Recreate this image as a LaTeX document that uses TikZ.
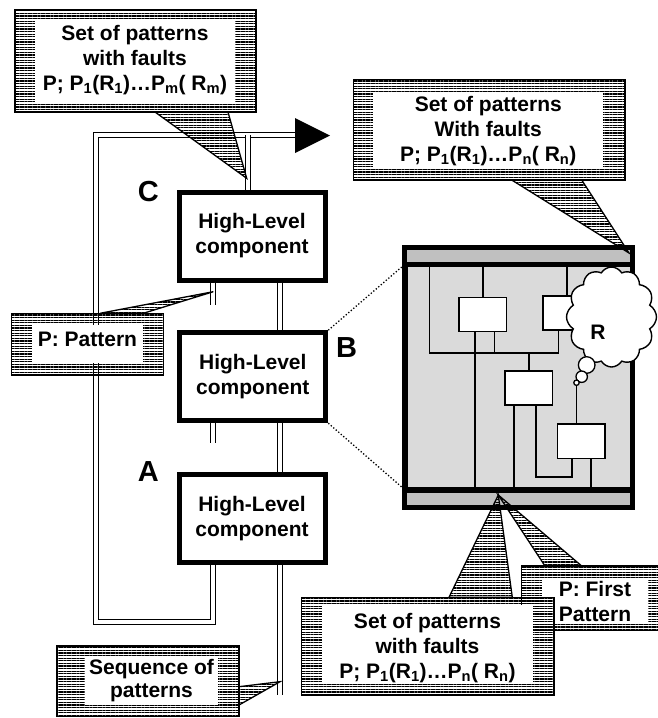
\documentclass[tikz,border=0pt]{standalone}
\usepackage{fontspec}
\setmainfont{Liberation Sans}
\usetikzlibrary{patterns.meta,shapes.symbols,calc}
\definecolor{bargray}{RGB}{192,192,192}
\definecolor{ingray}{RGB}{218,218,218}
\newcommand\callbox[4]{%
  \path[hatch] #1 rectangle #2;
  \fill[white] #3 rectangle #4;}
\begin{document}
\begin{tikzpicture}[x=1pt,y=-1pt,
  txt/.style={font=\bfseries\fontsize{21}{25}\selectfont, align=center, inner sep=0pt},
  lbl/.style={font=\bfseries\fontsize{29}{30}\selectfont, inner sep=0pt},
  comp/.style={draw, line width=5pt, fill=white, minimum width=146pt, minimum height=88pt, txt},
  dline/.style={double=white, double distance=3.3pt, line width=1.7pt},
  hatch/.style={pattern={Lines[angle=0,distance=2.6pt,line width=1.1pt]}, draw=black, line width=1.3pt},
  inbox/.style={draw, line width=1.5pt, fill=white, minimum width=47.6pt, minimum height=34.4pt, inner sep=0pt},
  wire/.style={line width=1.6pt},
  dots/.style={line width=1.3pt, dash pattern=on 1.3pt off 2pt},
  bubble/.style={circle, draw, fill=white, line width=1.3pt, inner sep=0pt}
]
\useasboundingbox (0,0) rectangle (658,718);

% ---------- high-level components ----------
\node[comp] (box1) at (252,236) {High-Level\\component};
\node[comp] (box2) at (252.8,376.7) {High-Level\\component};
\node[comp] (box3) at (252,518.5) {High-Level\\component};

\node[lbl] (lc) at (148.3,191.7) {C};
\node[lbl] (lb) at (346.7,347.3) {B};
\node[lbl] (la) at (148.3,471.7) {A};

% ---------- double lines ----------
\coordinate (tl) at (96,135);
\coordinate (ah) at (296,135);
\coordinate (bl) at (96,622);
\coordinate (br) at (213,622);
\coordinate (seqend) at (280,695);
\coordinate (tj) at (248,135);

\draw[dline] (box3.south -| 213,0) -- (br) -- (bl) -- (tl) -- (ah);
\draw[dline] (tj) -- (box1.north -| tj);
\draw[dline] (box1.south -| 213,0) -- ++(0,22);
\draw[dline] (box2.south -| 213,0) -- ++(0,20);
\draw[dline] (box1.south -| 280,0) -- (box2.north -| 280,0);
\draw[dline] (box2.south -| 280,0) -- (box3.north -| 280,0);
\draw[dline] (box3.south -| 280,0) -- (seqend);
\fill (295,118) -- (330,135.5) -- (295,153) -- cycle;

% ---------- detailed view ----------
\node[fill=black, minimum width=233.3pt, minimum height=265pt, inner sep=0pt, outer sep=0pt] (frame) at (518.35,377.5) {};
\node[fill=bargray, minimum width=223pt, minimum height=12pt, inner sep=0pt] (topbar) at (518.5,256) {};
\node[fill=bargray, minimum width=223pt, minimum height=12pt, inner sep=0pt] (botbar) at (518.5,499) {};
\node[fill=ingray, minimum width=221.7pt, minimum height=220pt, inner sep=0pt, outer sep=0pt] (inner) at (519.15,377) {};

\node[inbox] (ia) at (482.8,314.5) {};
\node[inbox] (ib) at (566.8,313) {};
\node[inbox] (ic) at (528.8,388) {};
\node[inbox] (id) at (581.3,441.3) {};

\coordinate (bus) at (429.3,352.7);
\coordinate (busR) at (559,352.7);
\coordinate (lk) at (535.7,476.7);
\coordinate (lkR) at (571.7,476.7);
\draw[wire] (bus |- inner.north) -- (bus) -- (busR);
\draw[wire] (ia.north) -- (ia.north |- inner.north);
\draw[wire] (ib.north) -- (ib.north |- inner.north);
\draw[wire] (494.3,0 |- ia.south) -- (494.3,0 |- bus);
\draw[wire] (558.3,0 |- ib.south) -- (558.3,0 |- bus);
\draw[wire] (ic.north) -- (ic.north |- bus);
\draw[wire] (475,0 |- ia.south) -- (475,0 |- inner.south);
\draw[wire] (514,0 |- ic.south) -- (514,0 |- inner.south);
\draw[wire] (lk |- ic.south) -- (lk) -- (lkR) -- (lkR |- id.south);
\draw[wire] (591,0 |- id.south) -- (591,0 |- inner.south);

\node[cloud, cloud puffs=12, cloud puff arc=120, draw, fill=white, line width=1.4pt,
      minimum width=90pt, minimum height=100pt, inner sep=0pt] (cl) at (611.5,317) {};
\node[txt] (rlab) at (598,332) {R};
\node[bubble, minimum size=16.6pt] (bub1) at (586.7,365) {};
\node[bubble, minimum size=11.4pt] (bub2) at (581.7,376.7) {};
\node[bubble, minimum size=5.4pt] (bub3) at (576.5,382.7) {};
\draw[wire] (bub3.south) -- (bub3.south |- id.north);

\draw[dots] (box2.north east) -- (frame.west |- inner.north);
\draw[dots] (box2.south east) -- (frame.west |- inner.south);

% ---------- callouts ----------
% top left
\path[hatch] (155,112) -- (246.7,178.3) -- (228,112) -- cycle;
\callbox{(15,10)}{(256,112)}{(35,19)}{(235,102)}
\node[txt] (t1) at (135,60) {Set of patterns\\with faults\\P; P\textsubscript{1}(R\textsubscript{1})…P\textsubscript{m}( R\textsubscript{m})};

% top right
\path[hatch] (511.7,180) -- (629,253) -- (581.7,180) -- cycle;
\callbox{(353.3,79.3)}{(625,180)}{(373.3,91.7)}{(603.3,168)}
\node[txt] (t2) at (488.3,131) {Set of patterns\\With faults\\P; P\textsubscript{1}(R\textsubscript{1})…P\textsubscript{n}( R\textsubscript{n})};

% P: Pattern
\path[hatch] (100,313.3) -- (213.3,291.7) -- (143.3,313.3) -- cycle;
\callbox{(11.7,313.3)}{(163.3,375)}{(31.7,325)}{(143.3,363)}
\node[txt] (t3) at (87.5,339) {P: Pattern};

% Sequence of patterns
\path[hatch] (239,686.7) -- (280,681.7) -- (239,705) -- cycle;
\callbox{(57,646)}{(239,716.7)}{(85,656.7)}{(218,705)}
\node[txt, font=\bfseries\fontsize{21}{23}\selectfont] (t4) at (151.5,681) {Sequence of\\patterns};

% P: First Pattern
\path[hatch] (545,566) -- (498.3,495) -- (581.7,566) -- cycle;
\callbox{(521.7,566)}{(662,630.7)}{(542,578)}{(648,621.7)}
\node[txt] (t6) at (595,601) {P: First\\Pattern};

% bottom big
\path[hatch] (449,597.3) -- (498.3,495) -- (512.3,597.3) -- cycle;
\callbox{(301.7,597.3)}{(554,695)}{(321.7,605)}{(533.3,684)}
\node[txt] (t5) at (427.5,648) {Set of patterns\\with faults\\P; P\textsubscript{1}(R\textsubscript{1})…P\textsubscript{n}( R\textsubscript{n})};
\end{tikzpicture}
\end{document}
